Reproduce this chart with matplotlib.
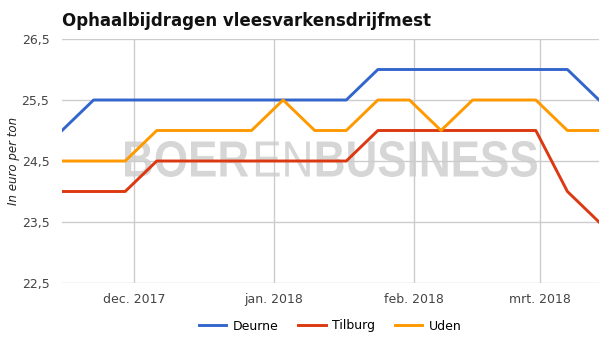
import datetime as dt

import matplotlib
matplotlib.use("Agg")
import matplotlib.pyplot as plt
from matplotlib.font_manager import FontProperties
from matplotlib.patches import PathPatch
from matplotlib.textpath import TextPath
from matplotlib.transforms import Affine2D

# weekly values, starting 15 Nov 2017
start = dt.date(2017, 11, 15)
n_weeks = 18
dates = [start + dt.timedelta(weeks=i) for i in range(n_weeks)]

deurne = [25.0, 25.5, 25.5, 25.5, 25.5, 25.5, 25.5, 25.5, 25.5, 25.5,
          26.0, 26.0, 26.0, 26.0, 26.0, 26.0, 26.0, 25.5]
tilburg = [24.0, 24.0, 24.0, 24.5, 24.5, 24.5, 24.5, 24.5, 24.5, 24.5,
           25.0, 25.0, 25.0, 25.0, 25.0, 25.0, 24.0, 23.5]
uden = [24.5, 24.5, 24.5, 25.0, 25.0, 25.0, 25.0, 25.5, 25.0, 25.0,
        25.5, 25.5, 25.0, 25.5, 25.5, 25.5, 25.0, 25.0]

month_ticks = [dt.date(2017, 12, 1), dt.date(2018, 1, 1), dt.date(2018, 2, 1), dt.date(2018, 3, 1)]
month_labels = ["dec. 2017", "jan. 2018", "feb. 2018", "mrt. 2018"]
y_ticks = [22.5, 23.5, 24.5, 25.5, 26.5]

plt.rcParams["font.family"] = ["DejaVu Sans"]

W, H = 616, 340
fig = plt.figure(figsize=(W / 100, H / 100), dpi=100)
ax = fig.add_axes([62 / W, 1 - 283 / H, (599 - 62) / W, (283 - 39) / H])

ax.plot(dates, deurne, color="#3366cc", lw=2.1, label="Deurne", zorder=3)
ax.plot(dates, tilburg, color="#dc3912", lw=2.1, label="Tilburg", zorder=3)
ax.plot(dates, uden, color="#ff9900", lw=2.1, label="Uden", zorder=3)

ax.set_xlim(dates[0], dates[-1])
ax.set_ylim(22.5, 26.5)
ax.set_yticks(y_ticks)
ax.set_yticklabels([f"{v:.1f}".replace(".", ",") for v in y_ticks])
ax.set_xticks(month_ticks)
ax.set_xticklabels(month_labels)
ax.tick_params(length=0, labelsize=9, labelcolor="#444444", pad=7)
ax.tick_params(axis="y", pad=9)
ax.grid(True, color="#cccccc", lw=1)
ax.set_axisbelow(True)
for s in ax.spines.values():
    s.set_visible(False)

fig.text(14 / W, 1 - 161 / H, "In euro per ton", fontsize=8.5, style="italic",
         color="#222222", rotation=90, ha="center", va="center")

fig.text(62 / W, 1 - 26 / H, "Ophaalbijdragen vleesvarkensdrijfmest",
         fontsize=12, fontweight="bold", color="#111111", ha="left", va="baseline")

# watermark, squeezed into the box it takes in the original (pixels)
wm_left, wm_right, wm_top, wm_bottom = 125, 537, 141, 177
parts = [("BOER", "bold"), ("EN", "normal"), ("BUSINESS", "bold")]
paths = []
x = 0
for word, weight in parts:
    p = TextPath((x, 0), word, size=1, prop=FontProperties(family="Liberation Sans", weight=weight))
    paths.append(p)
    x = p.get_extents().x1 + 0.09
ext = [p.get_extents() for p in paths]
px0 = min(e.x0 for e in ext)
px1 = max(e.x1 for e in ext)
py0 = min(e.y0 for e in ext)
py1 = max(e.y1 for e in ext)
sx = (wm_right - wm_left) / (px1 - px0)
sy = (wm_bottom - wm_top) / (py1 - py0)
tr = Affine2D().translate(-px0, -py0).scale(sx, sy).translate(wm_left, H - wm_bottom)
for p in paths:
    fig.add_artist(PathPatch(p, transform=tr, facecolor="#d6d6d6", edgecolor="none", zorder=1))
ax.set_zorder(2)
ax.patch.set_visible(False)

fig.legend(loc="center", bbox_to_anchor=(330 / W, 1 - 326 / H), ncol=3, frameon=False,
           fontsize=9, handlelength=2.2, columnspacing=1.6, handletextpad=0.5)

fig.savefig("out.png", dpi=100)
